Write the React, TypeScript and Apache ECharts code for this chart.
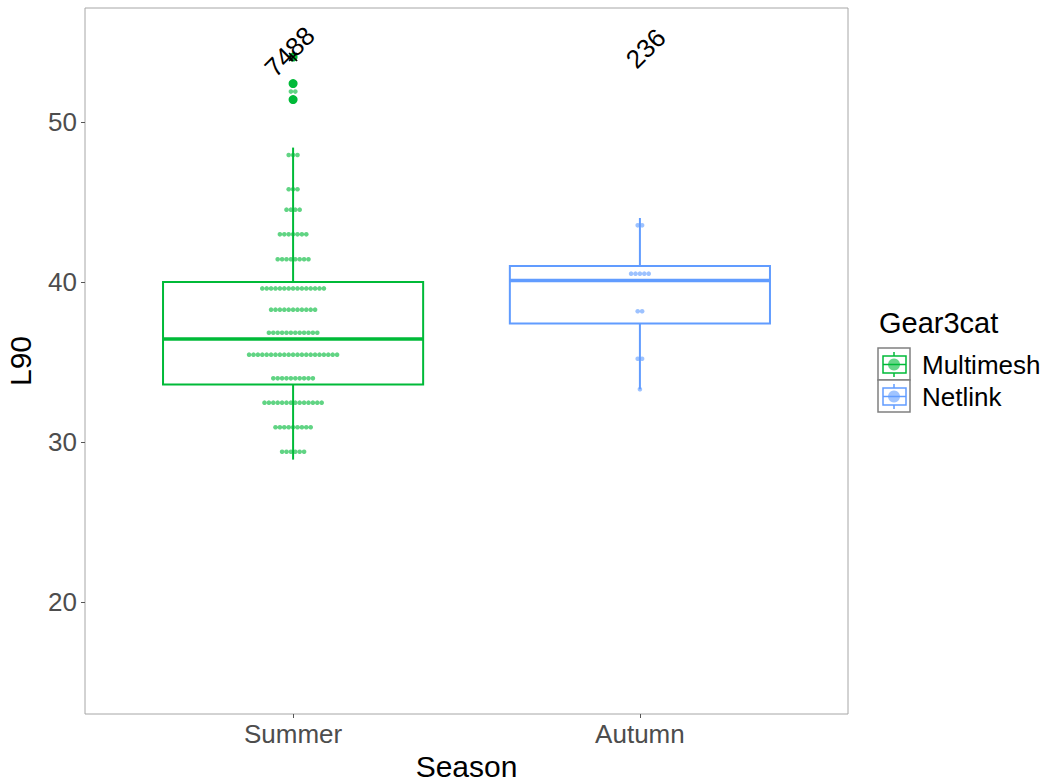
import React, { useEffect, useRef } from "react";
import * as echarts from "echarts";

const categories = ["Summer", "Autumn"];
const categoryPositions = [1, 2];
const seriesColors = ["#00BA38", "#619CFF"];
const groupNames = ["Multimesh", "Netlink"];

// box stats: [lowerWhisker, q1, median, q3, upperWhisker]
const summerBox = [28.9, 33.6, 36.44, 40.0, 48.4];
const autumnBox = [33.3, 37.4, 40.1, 41.0, 44.0];

// dot-plot rows: value and count of dots in the row
const summerDotValues = [29.39, 30.92, 32.46, 33.98, 35.46, 36.83, 38.27, 39.6, 41.42, 42.98, 44.52, 45.8, 47.94, 51.9];
const summerDotCounts = [6, 9, 14, 10, 21, 12, 11, 15, 8, 7, 4, 3, 3, 2];
const autumnDotValues = [33.3, 35.2, 38.17, 40.52, 43.54];
const autumnDotCounts = [1, 2, 2, 5, 2];

const summerOutliers = [51.4, 52.4, 54.06];
const summerCrossY = [54.06];

const countLabels = ["7488", "236"];
const countLabelX = [0.99, 2.017];
const countLabelY = [54.4, 54.6];

const yTicks = [20, 30, 40, 50];
const FONT = "Liberation Sans, Arial, sans-serif";

export default function App() {
  const ref = useRef<HTMLDivElement>(null);
  useEffect(() => {
    if (!ref.current) return;
    const chart = echarts.init(ref.current, null, { renderer: "svg" });

    const boxData = [
      { value: [categoryPositions[0], ...summerBox], color: seriesColors[0] },
      { value: [categoryPositions[1], ...autumnBox], color: seriesColors[1] },
    ];
    const dotData: any[] = [];
    summerDotValues.forEach((v, i) =>
      dotData.push({ value: [categoryPositions[0], v, summerDotCounts[i]], color: seriesColors[0] })
    );
    autumnDotValues.forEach((v, i) =>
      dotData.push({ value: [categoryPositions[1], v, autumnDotCounts[i]], color: seriesColors[1] })
    );

    const legendKey = (y: number, color: string, name: string) => ({
      type: "group",
      children: [
        { type: "rect", shape: { x: 878, y: y, width: 32, height: 32 }, style: { fill: "#fff", stroke: "#808080", lineWidth: 1.5 } },
        { type: "line", shape: { x1: 894, y1: y + 4, x2: 894, y2: y + 29 }, style: { stroke: color, lineWidth: 1.5 } },
        { type: "rect", shape: { x: 883, y: y + 8, width: 23, height: 17 }, style: { fill: "#fff", stroke: color, lineWidth: 1.5 } },
        { type: "line", shape: { x1: 883, y1: y + 16.5, x2: 906, y2: y + 16.5 }, style: { stroke: color, lineWidth: 1.5 } },
        { type: "circle", shape: { cx: 894, cy: y + 16.5, r: 6 }, style: { fill: color, opacity: 0.6 } },
        { type: "text", x: 922, y: y + 17, style: { text: name, font: `26px ${FONT}`, fill: "#000", verticalAlign: "middle" } },
      ],
    });

    chart.setOption({
      animation: false,
      grid: {
        left: 85,
        top: 8,
        width: 763,
        height: 706,
        containLabel: false,
        outerBoundsMode: "none",
        show: true,
        borderColor: "#A6A6A6",
        borderWidth: 1,
        backgroundColor: "#fff",
      },
      xAxis: {
        type: "value",
        min: 0.4,
        max: 2.6,
        name: "Season",
        nameLocation: "middle",
        nameGap: 36,
        nameTextStyle: { fontFamily: FONT, fontSize: 30, color: "#000" },
        axisLine: { show: false },
        splitLine: { show: false },
        axisTick: { show: true, customValues: categoryPositions, length: 4, lineStyle: { color: "#555" } },
        axisLabel: {
          customValues: categoryPositions,
          formatter: (v: number) => categories[categoryPositions.indexOf(v)] ?? "",
          fontFamily: FONT,
          fontSize: 26,
          color: "#4D4D4D",
          margin: 7,
        },
      },
      yAxis: {
        type: "value",
        min: 13,
        max: 57.125,
        name: "L90",
        nameLocation: "middle",
        nameGap: 50,
        nameTextStyle: { fontFamily: FONT, fontSize: 30, color: "#000" },
        axisLine: { show: false },
        splitLine: { show: false },
        axisTick: { show: true, customValues: yTicks, length: 4, lineStyle: { color: "#555" } },
        axisLabel: { customValues: yTicks, fontFamily: FONT, fontSize: 26, color: "#4D4D4D", margin: 8 },
      },
      series: [
        {
          type: "custom",
          name: "dots",
          data: dotData,
          z: 2,
          renderItem: (params: any, api: any) => {
            const c = api.coord([api.value(0), api.value(1)]);
            const n = api.value(2);
            const d = 4.4;
            const color = dotData[params.dataIndex].color;
            const children = [];
            for (let k = 0; k < n; k++) {
              children.push({
                type: "circle",
                shape: { cx: c[0] + (k - (n - 1) / 2) * d, cy: c[1], r: 2.3 },
                style: { fill: color, opacity: 0.62 },
              });
            }
            return { type: "group", children };
          },
        },
        {
          type: "custom",
          name: "boxes",
          data: boxData,
          z: 3,
          renderItem: (params: any, api: any) => {
            const x = api.value(0);
            const color = boxData[params.dataIndex].color;
            const lo = api.coord([x, api.value(1)]);
            const q1 = api.coord([x, api.value(2)]);
            const med = api.coord([x, api.value(3)]);
            const q3 = api.coord([x, api.value(4)]);
            const hi = api.coord([x, api.value(5)]);
            const half = api.size([0.75, 0])[0] / 2;
            const cx = lo[0];
            const ls = { stroke: color, lineWidth: 2 };
            return {
              type: "group",
              children: [
                { type: "line", shape: { x1: cx, y1: hi[1], x2: cx, y2: q3[1] }, style: ls },
                { type: "line", shape: { x1: cx, y1: q1[1], x2: cx, y2: lo[1] }, style: ls },
                { type: "rect", shape: { x: cx - half, y: q3[1], width: half * 2, height: q1[1] - q3[1] }, style: { fill: "none", stroke: color, lineWidth: 2 } },
                { type: "line", shape: { x1: cx - half, y1: med[1], x2: cx + half, y2: med[1] }, style: { stroke: color, lineWidth: 3.5 } },
              ],
            };
          },
        },
        {
          type: "scatter",
          name: "outliers",
          data: summerOutliers.map((v) => [categoryPositions[0], v]),
          symbol: "circle",
          symbolSize: 9,
          itemStyle: { color: seriesColors[0], opacity: 1 },
          z: 4,
        },
        {
          type: "custom",
          name: "cross",
          data: summerCrossY.map((v) => [categoryPositions[0], v]),
          z: 5,
          renderItem: (params: any, api: any) => {
            const c = api.coord([api.value(0), api.value(1)]);
            const s = 4;
            const st = { stroke: "#000", lineWidth: 1.6 };
            return {
              type: "group",
              children: [
                { type: "line", shape: { x1: c[0] - s, y1: c[1] - s, x2: c[0] + s, y2: c[1] + s }, style: st },
                { type: "line", shape: { x1: c[0] - s, y1: c[1] + s, x2: c[0] + s, y2: c[1] - s }, style: st },
              ],
            };
          },
        },
        {
          type: "custom",
          name: "counts",
          data: countLabels.map((t, i) => [countLabelX[i], countLabelY[i]]),
          z: 6,
          renderItem: (params: any, api: any) => {
            const c = api.coord([api.value(0), api.value(1)]);
            return {
              type: "text",
              x: c[0],
              y: c[1],
              rotation: Math.PI / 4,
              style: {
                text: countLabels[params.dataIndex],
                font: `26px ${FONT}`,
                fill: "#000",
                align: "center",
                verticalAlign: "middle",
              },
            };
          },
        },
      ],
      graphic: [
        { type: "text", left: 879, top: 308, style: { text: "Gear3cat", font: `29px ${FONT}`, fill: "#000" } },
        legendKey(348, seriesColors[0], groupNames[0]),
        legendKey(380, seriesColors[1], groupNames[1]),
      ],
    });
    return () => chart.dispose();
  }, []);
  return <div ref={ref} style={{ position: "fixed", left: 0, top: 0, width: 1047, height: 783, background: "#fff" }} />;
}
